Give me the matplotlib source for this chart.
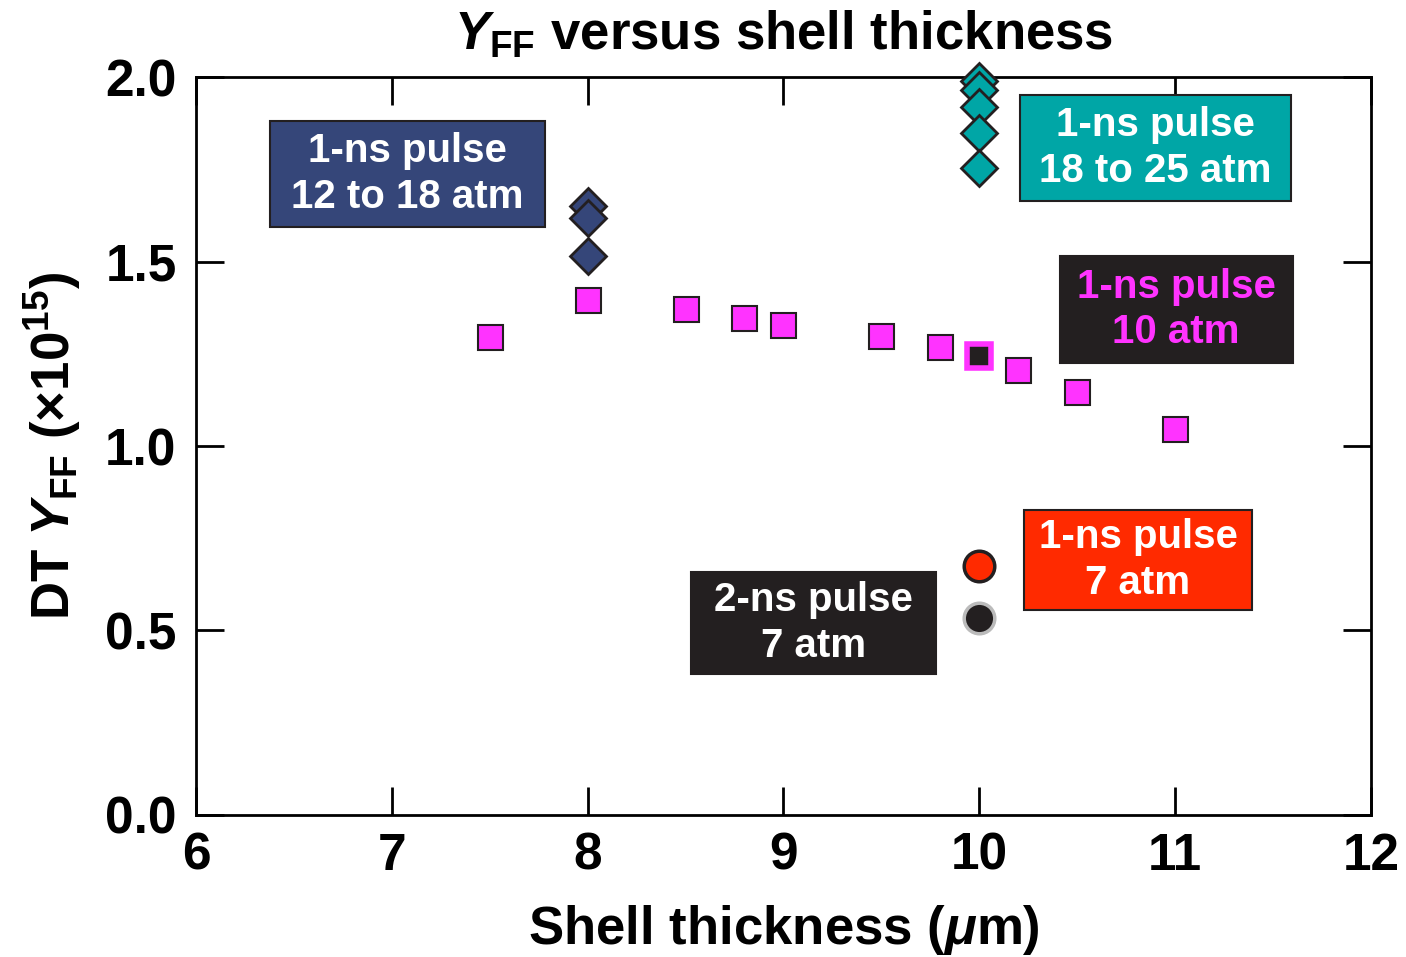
import matplotlib.pyplot as plt
from matplotlib.patches import Rectangle

plt.rcParams['font.family'] = ['Liberation Sans', 'DejaVu Sans']
plt.rcParams['font.weight'] = 'bold'
plt.rcParams['mathtext.fontset'] = 'custom'
plt.rcParams['mathtext.rm'] = 'Liberation Sans:bold'
plt.rcParams['mathtext.it'] = 'Liberation Sans:italic:bold'
plt.rcParams['mathtext.bf'] = 'Liberation Sans:bold'

# 1-ns pulse, 10 atm (squares)
sq_x = [7.5, 8.0, 8.5, 8.8, 9.0, 9.5, 9.8, 10.2, 10.5, 11.0]
sq_y = [1.295, 1.396, 1.371, 1.347, 1.328, 1.298, 1.268, 1.206, 1.146, 1.046]
sq_black_x = [10.0]
sq_black_y = [1.244]

# 1-ns pulse, 12 to 18 atm
navy_x = [8.0, 8.0, 8.0]
navy_y = [1.650, 1.618, 1.515]

# 1-ns pulse, 18 to 25 atm
teal_x = [10.0, 10.0, 10.0, 10.0, 10.0]
teal_y = [1.988, 1.966, 1.919, 1.848, 1.753]

# 7 atm circles
red_x = [10.0]
red_y = [0.675]
blk_x = [10.0]
blk_y = [0.534]

MAG = '#FF33FF'
NAVY = '#354679'
TEAL = '#00A6A6'
RED = '#FF2A00'
DARK = '#231F20'

fig = plt.figure(figsize=(14.06, 9.57), dpi=100)
ax = fig.add_axes([0.1394, 0.1484, 0.8357, 0.7711])

ax.plot(sq_x, sq_y, 's', ms=18, mfc=MAG, mec=DARK, mew=1.5, ls='none')
ax.plot(sq_black_x, sq_black_y, 's', ms=17, mfc=DARK, mec=MAG, mew=4, ls='none')
ax.plot(navy_x, navy_y, 'D', ms=18, mfc=NAVY, mec=DARK, mew=2, ls='none', clip_on=False)
ax.plot(teal_x, teal_y, 'D', ms=18, mfc=TEAL, mec=DARK, mew=2, ls='none', clip_on=False, zorder=5)
ax.plot(red_x, red_y, 'o', ms=22, mfc=RED, mec=DARK, mew=2.5, ls='none')
ax.plot(blk_x, blk_y, 'o', ms=22, mfc=DARK, mec='#BBBBBB', mew=2.5, ls='none')

# label boxes: (x0, x1, y0, y1, face, text colour, text)
boxes = [
    (6.38, 7.78, 1.594, 1.881, NAVY, 'white', '1-ns pulse\n12 to 18 atm'),
    (10.21, 11.59, 1.664, 1.951, TEAL, 'white', '1-ns pulse\n18 to 25 atm'),
    (10.41, 11.6, 1.225, 1.515, DARK, MAG, '1-ns pulse\n10 atm'),
    (10.23, 11.39, 0.556, 0.827, RED, 'white', '1-ns pulse\n7 atm'),
    (8.53, 9.78, 0.382, 0.659, DARK, 'white', '2-ns pulse\n7 atm'),
]
for x0, x1, y0, y1, fc, tc, txt in boxes:
    ax.add_patch(Rectangle((x0, y0), x1 - x0, y1 - y0, fc=fc, ec=DARK, lw=1.5, zorder=3))
    ax.text((x0 + x1) / 2, (y0 + y1) / 2, txt, color=tc, ha='center', va='center',
            fontsize=29, fontweight='bold', linespacing=1.25, zorder=4)

ax.set_xlim(6, 12)
ax.set_ylim(0, 2.0)
ax.set_xticks([6, 7, 8, 9, 10, 11, 12])
ax.set_yticks([0, 0.5, 1.0, 1.5, 2.0])
ax.set_yticklabels(['0.0', '0.5', '1.0', '1.5', '2.0'])
ax.tick_params(direction='in', length=20, width=2, labelsize=37, top=True, right=True, pad=12)
ax.tick_params(axis='y', pad=14)
for s in ax.spines.values():
    s.set_linewidth(2)

ax.set_xlabel(r'Shell thickness ($\mu$m)', fontsize=38, fontweight='bold', labelpad=16)
ax.set_ylabel(r'DT $Y_{\rm FF}$ ($\times$10$^{15}$)', fontsize=38, fontweight='bold', labelpad=16)
ax.set_title(r'$Y_{\rm FF}$ versus shell thickness', fontsize=38, fontweight='bold', pad=20)

fig.savefig('out.png', dpi=100)
